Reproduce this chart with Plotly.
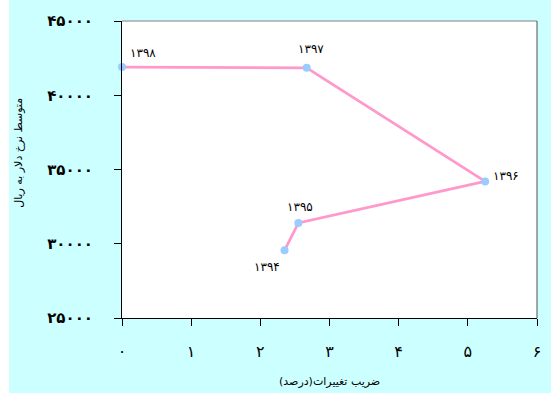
#!/usr/bin/env python

import plotly.graph_objects as go

# Data
years = ["۱۳۹۴", "۱۳۹۵", "۱۳۹۶", "۱۳۹۷", "۱۳۹۸"]
cv_percent = [2.35, 2.55, 5.25, 2.67, 0.0]
avg_rate = [29560, 31400, 34200, 41850, 41900]

x_tickvals = [0, 1, 2, 3, 4, 5, 6]
x_ticktext = ["۰", "۱", "۲", "۳", "۴", "۵", "۶"]
y_tickvals = [25000, 30000, 35000, 40000, 45000]
y_ticktext = ["۲۵۰۰۰", "۳۰۰۰۰", "۳۵۰۰۰", "۴۰۰۰۰", "۴۵۰۰۰"]

# label offsets (pixels) for the year labels
label_shift = [(-18, -17), (2, 16), (21, 5), (4, 19), (21, 14)]

font_fa = "DejaVu Sans"

fig = go.Figure()
fig.add_trace(go.Scatter(
    x=cv_percent, y=avg_rate,
    mode="lines+markers",
    line=dict(color="#FF99CC", width=2.8),
    marker=dict(color="#99CCFF", size=8),
    cliponaxis=False, showlegend=False,
))

for xv, yv, yr, (dx, dy) in zip(cv_percent, avg_rate, years, label_shift):
    fig.add_annotation(x=xv, y=yv, text=yr, showarrow=False,
                       xshift=dx, yshift=dy, xanchor="center", yanchor="middle",
                       font=dict(family=font_fa, size=12, color="black"))

fig.update_layout(
    width=551, height=393,
    margin=dict(l=122, r=10, t=21, b=75),
    paper_bgcolor="#CCFFFF", plot_bgcolor="white",
    font=dict(family=font_fa, color="black"),
)

fig.update_xaxes(
    range=[0, 6], tickvals=x_tickvals, ticktext=x_ticktext,
    showgrid=False, zeroline=False, showline=True, linecolor="black", linewidth=1,
    ticks="outside", ticklen=7, tickcolor="black",
    tickfont=dict(size=16), ticklabelstandoff=12,
)
fig.update_yaxes(
    range=[25000, 45000], tickvals=y_tickvals, ticktext=["<b>%s</b>" % t for t in y_ticktext],
    showgrid=False, zeroline=False, showline=True, linecolor="black", linewidth=1,
    ticks="outside", ticklen=7, tickcolor="black",
    tickfont=dict(size=15), ticklabelstandoff=18,
)

# gray frame on top / right
fig.add_shape(type="line", xref="paper", yref="paper", x0=0, x1=1, y0=1, y1=1,
              line=dict(color="#808080", width=1))
fig.add_shape(type="line", xref="paper", yref="paper", x0=1, x1=1, y0=0, y1=1,
              line=dict(color="#505050", width=1))
# white strip at the left edge of the page
fig.add_shape(type="rect", xref="paper", yref="paper",
              x0=-124 / 419, x1=-114 / 419, y0=-80 / 297, y1=1 + 25 / 297,
              line=dict(width=0), fillcolor="white")

# axis titles
fig.add_annotation(text="ضریب تغییرات(درصد)", xref="paper", yref="paper",
                   x=0.5, y=-63 / 297, xanchor="center", yanchor="middle",
                   showarrow=False, font=dict(size=11))
fig.add_annotation(text="متوسط نرخ دلار به ریال", xref="paper", yref="paper",
                   x=-104 / 419, y=0.556, xanchor="center", yanchor="middle",
                   textangle=-90, showarrow=False, font=dict(size=11))

fig.write_html("out.html", config={"displayModeBar": False},
               post_script="document.body.style.margin = '0';")
